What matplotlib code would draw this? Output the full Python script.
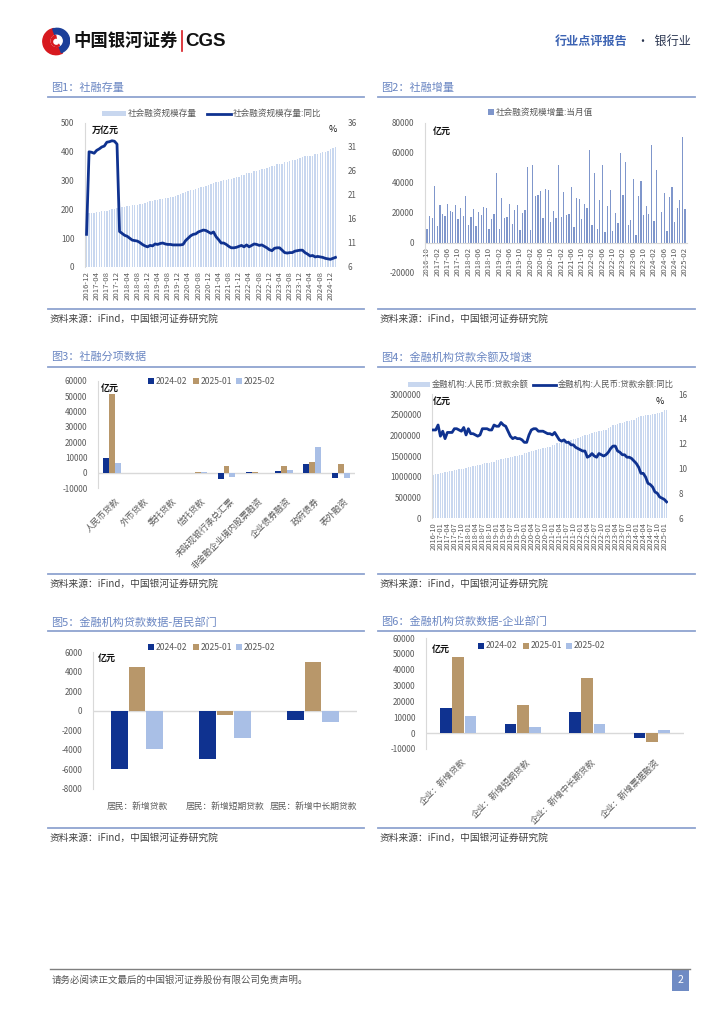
import matplotlib
matplotlib.use('Agg')
import matplotlib.pyplot as plt
from matplotlib.lines import Line2D
from matplotlib.patches import Rectangle, Wedge, Circle
from matplotlib.ticker import FuncFormatter
import numpy as np

plt.rcParams['font.family'] = ['Noto Sans CJK SC', 'DejaVu Sans']
plt.rcParams['axes.unicode_minus'] = False

# ---------------- DATA ----------------
# Fig1: TSF stock (万亿元) and YoY (%) 2016-12 .. 2025-02
tsf_stock = [184,
             186, 187, 189, 190, 192, 193, 195, 196, 198, 200, 202, 204,
             207, 208, 210, 211, 212, 214, 215, 217, 219, 220, 221, 224,
             228, 229, 232, 233, 235, 237, 238, 240, 242, 244, 246, 250,
             254, 256, 260, 263, 266, 269, 271, 274, 277, 278, 280, 283,
             288, 290, 294, 296, 298, 301, 302, 304, 307, 308, 311, 314,
             320, 321, 325, 325, 328, 334, 335, 337, 340, 341, 343, 346,
             350, 351, 356, 357, 359, 365, 365, 368, 372, 373, 375, 378,
             383, 384, 387, 387, 387, 393, 393, 395, 399, 401, 403, 408,
             414, 416]
tsf_yoy = [12.8,
           30.0, 29.9, 29.7, 30.3, 30.6, 31.0, 31.2, 32.0, 32.1, 32.3, 32.2, 31.6,
           13.4, 13.0, 12.6, 12.4, 12.0, 11.6, 11.5, 11.4, 11.1, 10.7, 10.4, 10.2,
           10.5, 10.4, 10.8, 10.7, 10.9, 11.0, 10.8, 10.7, 10.7, 10.6, 10.6, 10.6,
           10.6, 10.7, 11.5, 12.0, 12.5, 12.8, 12.9, 13.3, 13.5, 13.7, 13.6, 13.3,
           13.0, 13.3, 12.3, 11.7, 11.0, 11.0, 10.7, 10.3, 10.0, 10.0, 10.1, 10.3,
           10.5, 10.2, 10.6, 10.2, 10.5, 10.8, 10.7, 10.5, 10.6, 10.3, 10.0, 9.6,
           9.4, 9.9, 10.0, 10.0, 9.5, 9.0, 8.9, 9.0, 9.0, 9.3, 9.4, 9.5,
           9.5, 9.0, 8.7, 8.3, 8.4, 8.1, 8.2, 8.1, 8.0, 7.8, 7.7, 7.6,
           7.8, 8.0]
fig1_ticklabels = ['2016-12', '2017-04', '2017-08', '2017-12', '2018-04', '2018-08', '2018-12',
                   '2019-04', '2019-08', '2019-12', '2020-04', '2020-08', '2020-12', '2021-04',
                   '2021-08', '2021-12', '2022-04', '2022-08', '2022-12', '2023-04', '2023-08',
                   '2023-12', '2024-04', '2024-08', '2024-12']

# Fig2: TSF monthly increment (亿元) 2016-10 .. 2025-02
tsf_flow = [9100, 18200, 16400,
            38000, 11300, 25300, 19300, 18000, 26000, 21300, 20700, 25300, 16000, 23100, 18000,
            31300, 12000, 17100, 22400, 11300, 20400, 18400, 24000, 23100, 9600, 16200, 19300,
            46900, 9600, 29800, 16900, 17300, 26200, 12700, 22000, 25100, 8900, 19800, 22000,
            50700, 8900, 52000, 31300, 32000, 34900, 16900, 36000, 35300, 14000, 21600, 16400,
            52000, 17100, 34000, 18700, 19600, 37100, 10400, 30000, 29100, 16000, 25800, 23600,
            62000, 12000, 46900, 9300, 28700, 52000, 7600, 24700, 35300, 8200, 19800, 13100,
            60200, 32000, 54000, 12200, 15600, 42700, 5300, 31300, 41300, 18700, 24700, 19300,
            65300, 14900, 48700, -700, 20900, 33100, 7700, 30400, 37600, 14000, 23100, 28700,
            70900, 22600]
fig2_ticklabels = ['2016-10', '2017-02', '2017-06', '2017-10', '2018-02', '2018-06', '2018-10',
                   '2019-02', '2019-06', '2019-10', '2020-02', '2020-06', '2020-10', '2021-02',
                   '2021-06', '2021-10', '2022-02', '2022-06', '2022-10', '2023-02', '2023-06',
                   '2023-10', '2024-02', '2024-06', '2024-10', '2025-02']

# Fig3: TSF components (亿元)
fig3_cats = ['人民币贷款', '外币贷款', '委托贷款', '信托贷款', '未贴现银行承兑汇票',
             '非金融企业境内股票融资', '企业债券融资', '政府债券', '表外融资']
fig3_2402 = [9815, -200, -30, 100, -3900, 250, 1300, 6011, -3300]
fig3_2501 = [51700, -500, 100, 700, 4500, 220, 4300, 6933, 5800]
fig3_2502 = [6600, -300, -60, 600, -3000, 130, 1750, 16800, -3400]
series_names = ['2024-02', '2025-01', '2025-02']

# Fig4: RMB loan balance (万亿元) and YoY (%) 2016-10 .. 2025-02
loan_bal = [104.98, 105.8, 106.6,
            108.6, 109.6, 110.8, 111.9, 113.0, 114.6, 115.4, 116.5, 117.8, 118.4, 119.5, 120.1,
            123.0, 123.9, 125.0, 126.2, 127.3, 129.1, 130.6, 131.9, 133.3, 134.0, 135.3, 136.3,
            139.6, 140.5, 142.2, 143.1, 144.3, 146.0, 147.0, 148.2, 149.9, 150.6, 152.0, 153.1,
            156.4, 157.3, 160.2, 161.9, 163.3, 165.2, 166.2, 167.5, 169.4, 170.1, 171.5, 172.7,
            176.3, 177.6, 180.4, 181.9, 183.4, 185.5, 186.6, 187.8, 189.5, 190.3, 191.5, 192.7,
            196.7, 197.6, 200.7, 201.3, 203.2, 206.4, 207.1, 208.4, 210.9, 211.6, 212.8, 213.9,
            218.8, 220.6, 224.5, 225.2, 226.6, 230.6, 230.9, 232.2, 234.6, 235.4, 236.5, 237.6,
            242.5, 243.9, 247.0, 247.3, 248.3, 250.4, 250.1, 251.0, 252.6, 253.1, 253.7, 255.7,
            260.8, 261.8]
loan_yoy = [13.1, 13.1, 13.5,
            12.6, 13.0, 12.4, 12.9, 12.9, 12.9, 13.2, 13.2, 13.1, 13.0, 13.3, 12.7,
            13.2, 12.8, 12.8, 12.7, 12.6, 12.7, 13.2, 13.2, 13.2, 13.1, 13.1, 13.5,
            13.4, 13.4, 13.7, 13.5, 13.4, 13.0, 12.6, 12.4, 12.5, 12.4, 12.4, 12.3,
            12.1, 12.1, 12.7, 13.1, 13.2, 13.2, 13.0, 13.0, 13.0, 12.9, 12.8, 12.8,
            12.7, 12.9, 12.6, 12.3, 12.2, 12.3, 12.1, 12.1, 11.9, 11.9, 11.7, 11.6,
            11.5, 11.4, 11.4, 10.9, 11.0, 11.2, 11.0, 10.9, 11.2, 11.1, 11.0, 11.1,
            11.3, 11.6, 11.8, 11.8, 11.4, 11.3, 11.1, 11.1, 10.9, 10.9, 10.8, 10.6,
            10.4, 10.1, 9.6, 9.6, 9.3, 8.8, 8.7, 8.5, 8.1, 8.0, 7.7, 7.6,
            7.5, 7.3]
fig4_ticklabels = ['2016-10', '2017-01', '2017-04', '2017-07', '2017-10', '2018-01', '2018-04',
                   '2018-07', '2018-10', '2019-01', '2019-04', '2019-07', '2019-10', '2020-01',
                   '2020-04', '2020-07', '2020-10', '2021-01', '2021-04', '2021-07', '2021-10',
                   '2022-01', '2022-04', '2022-07', '2022-10', '2023-01', '2023-04', '2023-07',
                   '2023-10', '2024-01', '2024-04', '2024-07', '2024-10', '2025-01']

# Fig5: household loans (亿元)
fig5_cats = ['居民：新增贷款', '居民：新增短期贷款', '居民：新增中长期贷款']
fig5_2402 = [-5907, -4930, -977]
fig5_2501 = [4509, -489, 4998]
fig5_2502 = [-3891, -2763, -1128]

# Fig6: corporate loans (亿元)
fig6_cats = ['企业：新增贷款', '企业：新增短期贷款', '企业：新增中长期贷款', '企业：新增票据融资']
fig6_2402 = [16100, 5600, 13200, -3000]
fig6_2501 = [48100, 17700, 35000, -5300]
fig6_2502 = [10900, 3600, 5800, 1900]

# ---------------- STYLE ----------------
NAVY = '#0f3290'
TAN = '#b8976a'
LIGHT = '#a9bfe6'
BARLIGHT = '#c8d7ef'
FLOWC = '#7f96cb'
TITLEC = '#6a86c2'
RULEC = '#8fa4d0'
GRID = '#d9d9d9'
TXT = '#404040'
TICK = '#595959'

W, H = 724, 1024
fig = plt.figure(figsize=(7.24, 10.24), dpi=100)


def fx(x):
    return x / W


def fy(y):
    return 1 - y / H


def add_ax(l, t, r, b):
    return fig.add_axes([fx(l), fy(b), (r - l) / W, (b - t) / H])


def ftext(x, y, s, **kw):
    kw.setdefault('va', 'center')
    fig.text(fx(x), fy(y), s, **kw)


def fline(x0, y0, x1, y1, **kw):
    fig.add_artist(Line2D([fx(x0), fx(x1)], [fy(y0), fy(y1)], transform=fig.transFigure, **kw))


def frect(x, y, w, h, **kw):
    fig.add_artist(Rectangle((fx(x), fy(y + h)), w / W, h / H, transform=fig.transFigure, **kw))


plain = FuncFormatter(lambda v, p: '%d' % int(round(v)))


def style_ax(ax, left_spine=True):
    for s in ['top', 'right', 'bottom']:
        ax.spines[s].set_visible(False)
    ax.spines['left'].set_visible(left_spine)
    ax.spines['left'].set_color(GRID)
    ax.tick_params(length=0, labelsize=5.8, colors=TICK, pad=3)
    ax.tick_params(axis='y', pad=7.5)
    ax.yaxis.set_major_formatter(plain)
    ax.set_facecolor('none')


def panel_frame(x0, x1, title, ytitle, yrule, ysrc_rule):
    ftext(x0 + 3, ytitle, title, fontsize=8, color=TITLEC)
    fline(x0, yrule, x1, yrule, color=RULEC, lw=1.3)
    fline(x0, ysrc_rule, x1, ysrc_rule, color=RULEC, lw=1.3)
    ftext(x0 + 2, ysrc_rule + 10, '资料来源：iFind，中国银河证券研究院', fontsize=7,
          color=TXT, style='italic')


def square_legend(x_list, y, names, colors):
    for xx, nm, c in zip(x_list, names, colors):
        frect(xx - 3, y - 3, 6, 6, color=c, lw=0)
        ftext(xx + 5, y, nm, fontsize=6.2, color=TICK)


# ---------------- HEADER ----------------
lax = add_ax(40, 27, 72, 56)
lax.set_xlim(-1.1, 1.1)
lax.set_ylim(-1.1, 1.1)
lax.set_aspect('equal')
lax.axis('off')
lax.add_patch(Wedge((0, 0), 1.0, 100, 300, color='#d7191f'))
lax.add_patch(Wedge((0.08, 0.05), 0.95, -70, 110, color='#1b3f99'))
lax.add_patch(Circle((0.05, 0.05), 0.42, color='white'))
lax.add_patch(Wedge((0.05, 0.05), 0.42, 100, 300, color='#d7191f'))
lax.add_patch(Circle((0.02, -0.02), 0.18, color='white'))

ftext(73, 41, '中国银河证券', fontsize=12.5, fontweight='bold', color='#111111')
fline(182, 31, 182, 51, color='#d7191f', lw=1.2)
ftext(185, 41, 'CGS', fontsize=13.5, fontweight='bold', color='#111111', family='Liberation Sans')
ftext(555, 41, '行业点评报告', fontsize=8.7, color='#3c63b3', fontweight='bold')
ftext(637, 41, '·  银行业', fontsize=8.7, color='#2a3550')

# ---------------- FIG 1 ----------------
panel_frame(48, 364, '图1：社融存量', 88, 97, 309)
ax1 = add_ax(85, 123, 337, 267)
style_ax(ax1)
x1 = np.arange(len(tsf_stock))
ax1.bar(x1, tsf_stock, width=0.55, color=BARLIGHT, lw=0)
ax1.set_ylim(0, 500)
ax1.set_yticks(np.arange(0, 501, 100))
ax1.set_xlim(-0.6, len(tsf_stock) - 0.4)
ax1.set_xticks(np.arange(0, len(tsf_stock), 4))
ax1.set_xticklabels(fig1_ticklabels, rotation=90, fontsize=5.6)
ax1r = ax1.twinx()
style_ax(ax1r, left_spine=False)
ax1r.plot(x1, tsf_yoy, color=NAVY, lw=2.0, solid_joinstyle='round')
ax1r.set_ylim(6, 36)
ax1r.set_yticks(np.arange(6, 37, 5))
ax1r.set_xlim(-0.6, len(tsf_stock) - 0.4)
ftext(92, 130, '万亿元', fontsize=6.5, fontweight='bold', color='#111111')
ftext(333, 130, '%', fontsize=6.5, color='#111111', ha='center')
frect(102, 111, 24, 5, color=BARLIGHT, lw=0)
ftext(128, 113.5, '社会融资规模存量', fontsize=6.2, color=TICK)
fline(207, 113.5, 231, 113.5, color=NAVY, lw=2)
ftext(233, 113.5, '社会融资规模存量:同比', fontsize=6.2, color=TICK)

# ---------------- FIG 2 ----------------
panel_frame(378, 695, '图2：社融增量', 88, 97, 309)
ax2 = add_ax(425, 123, 687, 273)
style_ax(ax2)
x2 = np.arange(len(tsf_flow))
ax2.bar(x2, tsf_flow, width=0.5, color=FLOWC, lw=0)
ax2.set_ylim(-20000, 80000)
ax2.set_yticks(np.arange(-20000, 80001, 20000))
ax2.set_xlim(-0.8, len(tsf_flow) - 0.2)
ax2.spines['bottom'].set_visible(True)
ax2.spines['bottom'].set_color(GRID)
ax2.spines['bottom'].set_position(('data', 0))
ax2.set_xticks(np.arange(0, len(tsf_flow), 4))
ax2.set_xticklabels(fig2_ticklabels, rotation=90, fontsize=5.6)
ftext(433, 131, '亿元', fontsize=6.5, fontweight='bold', color='#111111')
square_legend([491], 112, ['社会融资规模增量:当月值'], [FLOWC])

# ---------------- FIG 3 ----------------
panel_frame(48, 364, '图3：社融分项数据', 357, 367, 574)
ax3 = add_ax(98, 381, 355, 488)
style_ax(ax3)
x3 = np.arange(len(fig3_cats))
bw = 0.21
ax3.bar(x3 - bw, fig3_2402, width=bw, color=NAVY, lw=0)
ax3.bar(x3, fig3_2501, width=bw, color=TAN, lw=0)
ax3.bar(x3 + bw, fig3_2502, width=bw, color=LIGHT, lw=0)
ax3.axhline(0, color=GRID, lw=1, zorder=0)
ax3.set_ylim(-10000, 60000)
ax3.set_yticks(np.arange(-10000, 60001, 10000))
ax3.set_xlim(-0.5, len(fig3_cats) - 0.5)
ax3.set_xticks(x3 + 0.1)
ax3.set_xticklabels(fig3_cats, rotation=45, ha='right', rotation_mode='anchor', fontsize=6.3)
ax3.tick_params(axis='x', pad=6)
ftext(101, 388, '亿元', fontsize=6.5, fontweight='bold', color='#111111')
square_legend([151, 196, 239], 381, series_names, [NAVY, TAN, LIGHT])

# ---------------- FIG 4 ----------------
panel_frame(378, 695, '图4：金融机构贷款余额及增速', 357, 367, 574)
ax4 = add_ax(432, 394, 668, 518)
style_ax(ax4)
x4 = np.arange(len(loan_bal))
ax4.bar(x4, np.array(loan_bal) * 10000, width=0.55, color=BARLIGHT, lw=0)
ax4.set_ylim(0, 3000000)
ax4.set_yticks(np.arange(0, 3000001, 500000))
ax4.yaxis.set_major_formatter(plain)
ax4.set_xlim(-0.6, len(loan_bal) - 0.4)
ax4.set_xticks(np.arange(0, len(loan_bal), 3))
ax4.set_xticklabels(fig4_ticklabels, rotation=90, fontsize=5.4)
ax4r = ax4.twinx()
style_ax(ax4r, left_spine=False)
ax4r.plot(x4, loan_yoy, color=NAVY, lw=2.0, solid_joinstyle='round')
ax4r.set_ylim(6, 16)
ax4r.set_yticks(np.arange(6, 17, 2))
ax4r.set_xlim(-0.6, len(loan_bal) - 0.4)
ftext(433, 401, '亿元', fontsize=6.5, fontweight='bold', color='#111111')
ftext(660, 401, '%', fontsize=6.5, color='#111111', ha='center')
frect(408, 382, 22, 5, color=BARLIGHT, lw=0)
ftext(432, 384.5, '金融机构:人民币:贷款余额', fontsize=6.0, color=TICK)
fline(533, 384.5, 556, 384.5, color=NAVY, lw=2)
ftext(558, 384.5, '金融机构:人民币:贷款余额:同比', fontsize=6.0, color=TICK)

# ---------------- FIG 5 ----------------
panel_frame(48, 364, '图5：金融机构贷款数据-居民部门', 622, 631, 828)
ax5 = add_ax(93, 652, 357, 789)
style_ax(ax5)
x5 = np.arange(len(fig5_cats))
bw = 0.19
ax5.bar(x5 - 0.195, fig5_2402, width=bw, color=NAVY, lw=0)
ax5.bar(x5, fig5_2501, width=bw, color=TAN, lw=0)
ax5.bar(x5 + 0.195, fig5_2502, width=bw, color=LIGHT, lw=0)
ax5.axhline(0, color=GRID, lw=1, zorder=0)
ax5.set_ylim(-8000, 6000)
ax5.set_yticks(np.arange(-8000, 6001, 2000))
ax5.set_xlim(-0.5, len(fig5_cats) - 0.5)
ax5.set_xticks(x5)
ax5.set_xticklabels(fig5_cats, fontsize=6.3)
ax5.tick_params(axis='x', pad=9)
ftext(98, 658, '亿元', fontsize=6.5, fontweight='bold', color='#111111')
square_legend([151, 196, 239], 647, series_names, [NAVY, TAN, LIGHT])

# ---------------- FIG 6 ----------------
panel_frame(378, 695, '图6：金融机构贷款数据-企业部门', 622, 631, 828)
ax6 = add_ax(426, 638, 684, 749)
style_ax(ax6)
x6 = np.arange(len(fig6_cats))
bw = 0.185
ax6.bar(x6 - 0.19, fig6_2402, width=bw, color=NAVY, lw=0)
ax6.bar(x6, fig6_2501, width=bw, color=TAN, lw=0)
ax6.bar(x6 + 0.19, fig6_2502, width=bw, color=LIGHT, lw=0)
ax6.axhline(0, color=GRID, lw=1, zorder=0)
ax6.set_ylim(-10000, 60000)
ax6.set_yticks(np.arange(-10000, 60001, 10000))
ax6.set_xlim(-0.5, len(fig6_cats) - 0.5)
ax6.set_xticks(x6 + 0.05)
ax6.set_xticklabels(fig6_cats, rotation=45, ha='right', rotation_mode='anchor', fontsize=6.3)
ax6.tick_params(axis='x', pad=6)
ftext(432, 649, '亿元', fontsize=6.5, fontweight='bold', color='#111111')
square_legend([481, 526, 569], 646, series_names, [NAVY, TAN, LIGHT])

# ---------------- FOOTER ----------------
fline(50, 969, 690, 969, color='#7f7f7f', lw=1.0)
ftext(52, 980, '请务必阅读正文最后的中国银河证券股份有限公司免责声明。', fontsize=6.8, color='#555555')
frect(672, 969, 17, 22, color='#6f8bc4', lw=0)
ftext(680.5, 980, '2', fontsize=7.5, color='white', ha='center')

fig.savefig('out.png', dpi=100)
